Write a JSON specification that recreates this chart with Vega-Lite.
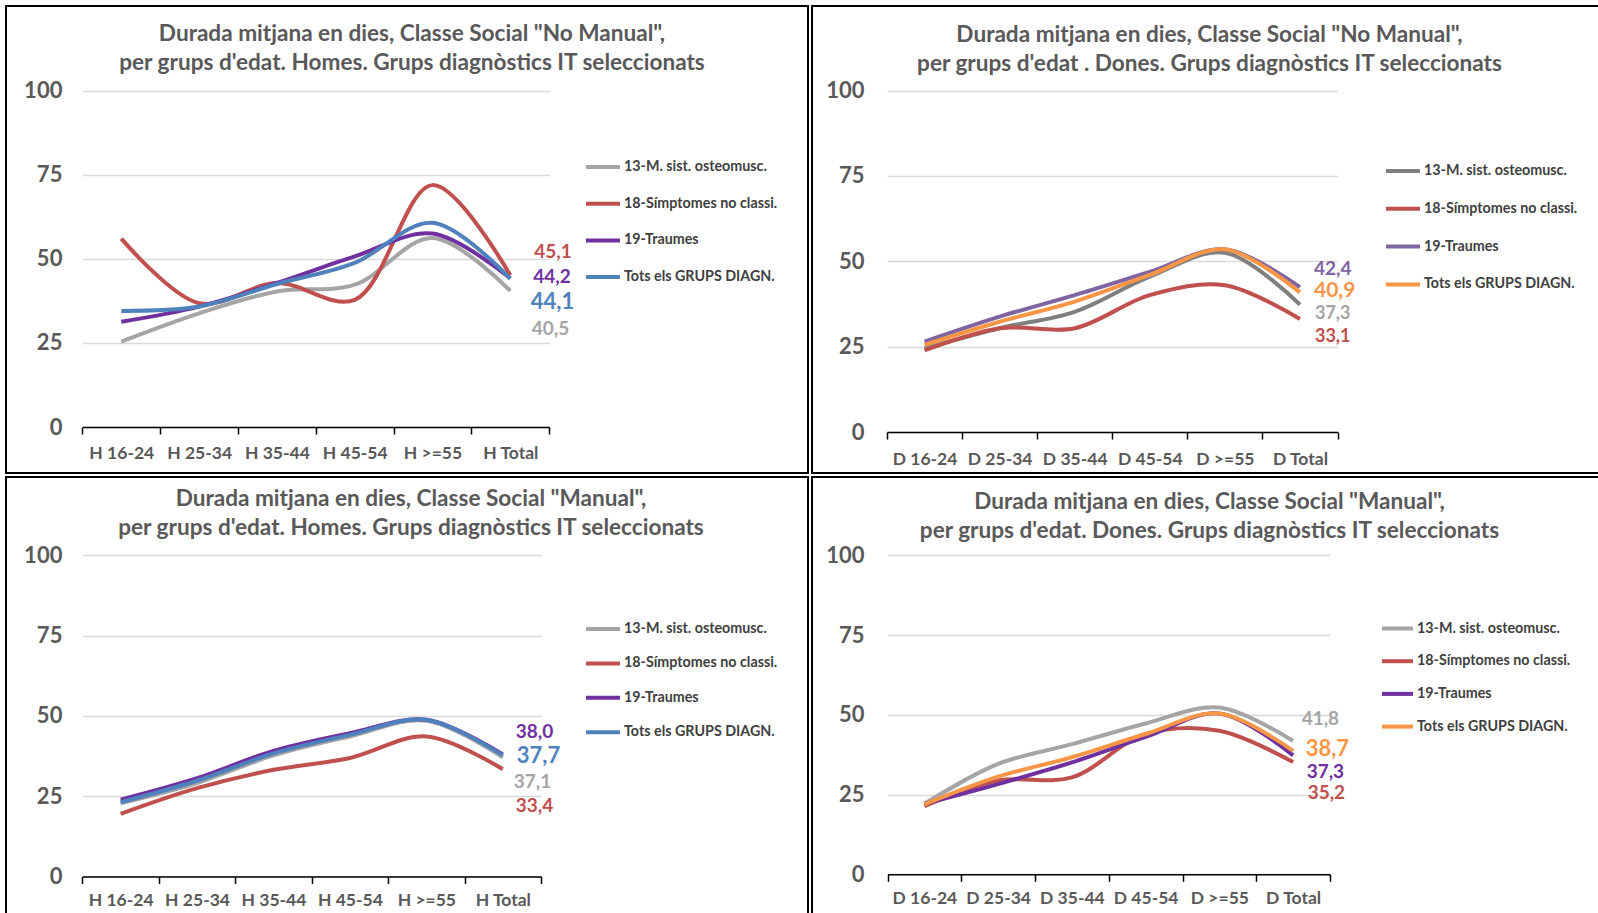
{
  "$schema": "https://vega.github.io/schema/vega-lite/v6.json",
  "background": "white",
  "padding": {"left": 5, "top": 5, "right": 0, "bottom": 0},
  "config": {
    "locale": {"number": {"decimal": ",", "thousands": ".", "grouping": [3], "currency": ["", " €"]}},
    "view": {"stroke": "#000000", "strokeWidth": 2, "fill": "white"},
    "font": "Lato",
    "axis": {"labelFont": "Lato", "labelFontWeight": "bold", "labelColor": "#595959", "title": null},
    "axisX": {"labelFontSize": 17.5, "labelAngle": 0, "tickBand": "extent", "tickSize": 7, "labelPadding": 8, "grid": false, "domainColor": "#000000", "tickColor": "#000000", "domainWidth": 1.5, "tickWidth": 1.5},
    "axisY": {"labelFontSize": 22, "domain": false, "ticks": false, "labelPadding": 20.5, "gridColor": "#D9D9D9", "gridWidth": 1.3},
    "legend": {"title": null, "orient": "none", "symbolType": "stroke", "symbolSize": 1156, "symbolStrokeWidth": 4, "labelFont": "Lato", "labelFontSize": 14.3, "labelFontWeight": "bold", "labelColor": "#404040", "labelOffset": 2},
    "title": {"font": "Lato", "fontSize": 22.6, "fontWeight": "bold", "color": "#595959", "anchor": "middle", "frame": "group", "lineHeight": 29.6},
    "concat": {"spacing": 2}
  },
  "datasets": {
    "tl": [
      {"cat": "H 16-24", "series": "13-M. sist. osteomusc.", "v": 25.4},
      {"cat": "H 25-34", "series": "13-M. sist. osteomusc.", "v": 33.8},
      {"cat": "H 35-44", "series": "13-M. sist. osteomusc.", "v": 40.3},
      {"cat": "H 45-54", "series": "13-M. sist. osteomusc.", "v": 42.3},
      {"cat": "H >=55", "series": "13-M. sist. osteomusc.", "v": 56.2},
      {"cat": "H Total", "series": "13-M. sist. osteomusc.", "v": 40.5},
      {"cat": "H 16-24", "series": "18-Símptomes no classi.", "v": 56.0},
      {"cat": "H 25-34", "series": "18-Símptomes no classi.", "v": 36.8},
      {"cat": "H 35-44", "series": "18-Símptomes no classi.", "v": 42.8},
      {"cat": "H 45-54", "series": "18-Símptomes no classi.", "v": 37.8},
      {"cat": "H >=55", "series": "18-Símptomes no classi.", "v": 71.9},
      {"cat": "H Total", "series": "18-Símptomes no classi.", "v": 45.1},
      {"cat": "H 16-24", "series": "19-Traumes", "v": 31.3},
      {"cat": "H 25-34", "series": "19-Traumes", "v": 35.8},
      {"cat": "H 35-44", "series": "19-Traumes", "v": 42.8},
      {"cat": "H 45-54", "series": "19-Traumes", "v": 50.7},
      {"cat": "H >=55", "series": "19-Traumes", "v": 57.5},
      {"cat": "H Total", "series": "19-Traumes", "v": 44.2},
      {"cat": "H 16-24", "series": "Tots els GRUPS DIAGN.", "v": 34.5},
      {"cat": "H 25-34", "series": "Tots els GRUPS DIAGN.", "v": 35.8},
      {"cat": "H 35-44", "series": "Tots els GRUPS DIAGN.", "v": 42.5},
      {"cat": "H 45-54", "series": "Tots els GRUPS DIAGN.", "v": 48.8},
      {"cat": "H >=55", "series": "Tots els GRUPS DIAGN.", "v": 60.7},
      {"cat": "H Total", "series": "Tots els GRUPS DIAGN.", "v": 44.1}
    ],
    "tr": [
      {"cat": "D 16-24", "series": "13-M. sist. osteomusc.", "v": 24.5},
      {"cat": "D 25-34", "series": "13-M. sist. osteomusc.", "v": 30.4},
      {"cat": "D 35-44", "series": "13-M. sist. osteomusc.", "v": 35.2},
      {"cat": "D 45-54", "series": "13-M. sist. osteomusc.", "v": 45.5},
      {"cat": "D >=55", "series": "13-M. sist. osteomusc.", "v": 52.5},
      {"cat": "D Total", "series": "13-M. sist. osteomusc.", "v": 37.3},
      {"cat": "D 16-24", "series": "18-Símptomes no classi.", "v": 23.9},
      {"cat": "D 25-34", "series": "18-Símptomes no classi.", "v": 30.4},
      {"cat": "D 35-44", "series": "18-Símptomes no classi.", "v": 30.4},
      {"cat": "D 45-54", "series": "18-Símptomes no classi.", "v": 40.1},
      {"cat": "D >=55", "series": "18-Símptomes no classi.", "v": 43.0},
      {"cat": "D Total", "series": "18-Símptomes no classi.", "v": 33.1},
      {"cat": "D 16-24", "series": "19-Traumes", "v": 26.5},
      {"cat": "D 25-34", "series": "19-Traumes", "v": 33.8},
      {"cat": "D 35-44", "series": "19-Traumes", "v": 40.1},
      {"cat": "D 45-54", "series": "19-Traumes", "v": 46.9},
      {"cat": "D >=55", "series": "19-Traumes", "v": 53.5},
      {"cat": "D Total", "series": "19-Traumes", "v": 42.4},
      {"cat": "D 16-24", "series": "Tots els GRUPS DIAGN.", "v": 25.5},
      {"cat": "D 25-34", "series": "Tots els GRUPS DIAGN.", "v": 32.3},
      {"cat": "D 35-44", "series": "Tots els GRUPS DIAGN.", "v": 38.2},
      {"cat": "D 45-54", "series": "Tots els GRUPS DIAGN.", "v": 46.0},
      {"cat": "D >=55", "series": "Tots els GRUPS DIAGN.", "v": 53.5},
      {"cat": "D Total", "series": "Tots els GRUPS DIAGN.", "v": 40.9}
    ],
    "bl": [
      {"cat": "H 16-24", "series": "13-M. sist. osteomusc.", "v": 22.8},
      {"cat": "H 25-34", "series": "13-M. sist. osteomusc.", "v": 29.1},
      {"cat": "H 35-44", "series": "13-M. sist. osteomusc.", "v": 37.7},
      {"cat": "H 45-54", "series": "13-M. sist. osteomusc.", "v": 43.6},
      {"cat": "H >=55", "series": "13-M. sist. osteomusc.", "v": 48.5},
      {"cat": "H Total", "series": "13-M. sist. osteomusc.", "v": 37.1},
      {"cat": "H 16-24", "series": "18-Símptomes no classi.", "v": 19.5},
      {"cat": "H 25-34", "series": "18-Símptomes no classi.", "v": 27.5},
      {"cat": "H 35-44", "series": "18-Símptomes no classi.", "v": 33.2},
      {"cat": "H 45-54", "series": "18-Símptomes no classi.", "v": 36.9},
      {"cat": "H >=55", "series": "18-Símptomes no classi.", "v": 43.6},
      {"cat": "H Total", "series": "18-Símptomes no classi.", "v": 33.4},
      {"cat": "H 16-24", "series": "19-Traumes", "v": 23.9},
      {"cat": "H 25-34", "series": "19-Traumes", "v": 30.6},
      {"cat": "H 35-44", "series": "19-Traumes", "v": 39.1},
      {"cat": "H 45-54", "series": "19-Traumes", "v": 44.6},
      {"cat": "H >=55", "series": "19-Traumes", "v": 48.8},
      {"cat": "H Total", "series": "19-Traumes", "v": 38.0},
      {"cat": "H 16-24", "series": "Tots els GRUPS DIAGN.", "v": 23.1},
      {"cat": "H 25-34", "series": "Tots els GRUPS DIAGN.", "v": 29.8},
      {"cat": "H 35-44", "series": "Tots els GRUPS DIAGN.", "v": 38.3},
      {"cat": "H 45-54", "series": "Tots els GRUPS DIAGN.", "v": 44.1},
      {"cat": "H >=55", "series": "Tots els GRUPS DIAGN.", "v": 48.8},
      {"cat": "H Total", "series": "Tots els GRUPS DIAGN.", "v": 37.7}
    ],
    "br": [
      {"cat": "D 16-24", "series": "13-M. sist. osteomusc.", "v": 22.1},
      {"cat": "D 25-34", "series": "13-M. sist. osteomusc.", "v": 34.6},
      {"cat": "D 35-44", "series": "13-M. sist. osteomusc.", "v": 40.8},
      {"cat": "D 45-54", "series": "13-M. sist. osteomusc.", "v": 47.3},
      {"cat": "D >=55", "series": "13-M. sist. osteomusc.", "v": 52.3},
      {"cat": "D Total", "series": "13-M. sist. osteomusc.", "v": 41.8},
      {"cat": "D 16-24", "series": "18-Símptomes no classi.", "v": 21.4},
      {"cat": "D 25-34", "series": "18-Símptomes no classi.", "v": 29.4},
      {"cat": "D 35-44", "series": "18-Símptomes no classi.", "v": 30.4},
      {"cat": "D 45-54", "series": "18-Símptomes no classi.", "v": 44.0},
      {"cat": "D >=55", "series": "18-Símptomes no classi.", "v": 45.0},
      {"cat": "D Total", "series": "18-Símptomes no classi.", "v": 35.2},
      {"cat": "D 16-24", "series": "19-Traumes", "v": 22.1},
      {"cat": "D 25-34", "series": "19-Traumes", "v": 28.3},
      {"cat": "D 35-44", "series": "19-Traumes", "v": 35.1},
      {"cat": "D 45-54", "series": "19-Traumes", "v": 43.1},
      {"cat": "D >=55", "series": "19-Traumes", "v": 50.4},
      {"cat": "D Total", "series": "19-Traumes", "v": 37.3},
      {"cat": "D 16-24", "series": "Tots els GRUPS DIAGN.", "v": 21.9},
      {"cat": "D 25-34", "series": "Tots els GRUPS DIAGN.", "v": 30.6},
      {"cat": "D 35-44", "series": "Tots els GRUPS DIAGN.", "v": 36.7},
      {"cat": "D 45-54", "series": "Tots els GRUPS DIAGN.", "v": 44.0},
      {"cat": "D >=55", "series": "Tots els GRUPS DIAGN.", "v": 50.4},
      {"cat": "D Total", "series": "Tots els GRUPS DIAGN.", "v": 38.7}
    ]
  },
  "resolve": {"scale": {"x": "independent", "y": "independent", "color": "independent"}, "legend": {"color": "independent"}},
  "vconcat": [
    {
      "hconcat": [
        {
          "width": 802, "height": 467,
          "data": {"name": "tl"},
          "title": {"text": ["Durada mitjana en dies, Classe Social \"No Manual\",", "per grups d'edat. Homes. Grups diagnòstics IT seleccionats"], "offset": -69, "dx": 5},
          "encoding": {
            "x": {"field": "cat", "type": "ordinal", "bandPosition": 0.5, "scale": {"type": "band", "domain": ["H 16-24", "H 25-34", "H 35-44", "H 45-54", "H >=55", "H Total"], "range": [76.4, 543.2], "paddingInner": 0, "paddingOuter": 0}, "axis": {"offset": -46, "labelPadding": 10}},
            "y": {"field": "v", "type": "quantitative", "scale": {"domain": [0, 100], "range": [421, 84.6], "nice": false}, "axis": {"offset": -76.4, "values": [0, 25, 50, 75, 100]}}
          },
          "layer": [
            {"mark": {"type": "line", "interpolate": "catmull-rom", "strokeWidth": 4}, "encoding": {"color": {"field": "series", "type": "nominal", "scale": {"domain": ["13-M. sist. osteomusc.", "18-Símptomes no classi.", "19-Traumes", "Tots els GRUPS DIAGN."], "range": ["#A5A5A5", "#C0504D", "#7030A0", "#4F81BD"]}, "legend": {"legendX": 578, "legendY": 142, "rowPadding": 9.7}}}},
            {"transform": [{"filter": "datum.cat == 'H Total' && datum.series == '18-Símptomes no classi.'"}], "mark": {"type": "text", "align": "left", "baseline": "middle", "dx": 24, "dy": -23, "fontSize": 19, "fontWeight": "bold", "color": "#C0504D"}, "encoding": {"text": {"field": "v", "type": "quantitative", "format": ".1f"}}},
            {"transform": [{"filter": "datum.cat == 'H Total' && datum.series == '19-Traumes'"}], "mark": {"type": "text", "align": "left", "baseline": "middle", "dx": 23, "dy": -1, "fontSize": 19, "fontWeight": "bold", "color": "#7030A0"}, "encoding": {"text": {"field": "v", "type": "quantitative", "format": ".1f"}}},
            {"transform": [{"filter": "datum.cat == 'H Total' && datum.series == 'Tots els GRUPS DIAGN.'"}], "mark": {"type": "text", "align": "left", "baseline": "middle", "dx": 20.5, "dy": 23, "fontSize": 22, "fontWeight": "bold", "color": "#4F81BD"}, "encoding": {"text": {"field": "v", "type": "quantitative", "format": ".1f"}}},
            {"transform": [{"filter": "datum.cat == 'H Total' && datum.series == '13-M. sist. osteomusc.'"}], "mark": {"type": "text", "align": "left", "baseline": "middle", "dx": 21.5, "dy": 38, "fontSize": 19, "fontWeight": "bold", "color": "#A5A5A5"}, "encoding": {"text": {"field": "v", "type": "quantitative", "format": ".1f"}}}
          ]
        },
        {
          "width": 795, "height": 467,
          "data": {"name": "tr"},
          "title": {"text": ["Durada mitjana en dies, Classe Social \"No Manual\",", "per grups d'edat . Dones. Grups diagnòstics IT seleccionats"], "offset": -70},
          "encoding": {
            "x": {"field": "cat", "type": "ordinal", "bandPosition": 0.5, "scale": {"type": "band", "domain": ["D 16-24", "D 25-34", "D 35-44", "D 45-54", "D >=55", "D Total"], "range": [75, 525.5], "paddingInner": 0, "paddingOuter": 0}, "axis": {"offset": -41, "labelPadding": 11}},
            "y": {"field": "v", "type": "quantitative", "scale": {"domain": [0, 100], "range": [426, 84.6], "nice": false}, "axis": {"offset": -75, "labelPadding": 23, "values": [0, 25, 50, 75, 100]}}
          },
          "layer": [
            {"mark": {"type": "line", "interpolate": "catmull-rom", "strokeWidth": 4}, "encoding": {"color": {"field": "series", "type": "nominal", "scale": {"domain": ["13-M. sist. osteomusc.", "18-Símptomes no classi.", "19-Traumes", "Tots els GRUPS DIAGN."], "range": ["#7F7F7F", "#C0504D", "#8064A2", "#F79646"]}, "legend": {"legendX": 572, "legendY": 146, "rowPadding": 10.8}}}},
            {"transform": [{"filter": "datum.cat == 'D Total' && datum.series == '19-Traumes'"}], "mark": {"type": "text", "align": "left", "baseline": "middle", "dx": 14, "dy": -18, "fontSize": 19, "fontWeight": "bold", "color": "#8064A2"}, "encoding": {"text": {"field": "v", "type": "quantitative", "format": ".1f"}}},
            {"transform": [{"filter": "datum.cat == 'D Total' && datum.series == 'Tots els GRUPS DIAGN.'"}], "mark": {"type": "text", "align": "left", "baseline": "middle", "dx": 14, "dy": -1, "fontSize": 21, "fontWeight": "bold", "color": "#F79646"}, "encoding": {"text": {"field": "v", "type": "quantitative", "format": ".1f"}}},
            {"transform": [{"filter": "datum.cat == 'D Total' && datum.series == '13-M. sist. osteomusc.'"}], "mark": {"type": "text", "align": "left", "baseline": "middle", "dx": 15, "dy": 9, "fontSize": 18, "fontWeight": "bold", "color": "#A5A5A5"}, "encoding": {"text": {"field": "v", "type": "quantitative", "format": ".1f"}}},
            {"transform": [{"filter": "datum.cat == 'D Total' && datum.series == '18-Símptomes no classi.'"}], "mark": {"type": "text", "align": "left", "baseline": "middle", "dx": 15, "dy": 18.5, "fontSize": 18, "fontWeight": "bold", "color": "#C0504D"}, "encoding": {"text": {"field": "v", "type": "quantitative", "format": ".1f"}}}
          ]
        }
      ],
      "resolve": {"scale": {"x": "independent", "y": "independent", "color": "independent"}, "legend": {"color": "independent"}}
    },
    {
      "hconcat": [
        {
          "width": 802, "height": 445,
          "data": {"name": "bl"},
          "title": {"text": ["Durada mitjana en dies, Classe Social \"Manual\",", "per grups d'edat. Homes. Grups diagnòstics IT seleccionats"], "offset": -63, "dx": 4},
          "encoding": {
            "x": {"field": "cat", "type": "ordinal", "bandPosition": 0.5, "scale": {"type": "band", "domain": ["H 16-24", "H 25-34", "H 35-44", "H 45-54", "H >=55", "H Total"], "range": [76.4, 535], "paddingInner": 0, "paddingOuter": 0}, "axis": {"offset": -45.6}},
            "y": {"field": "v", "type": "quantitative", "scale": {"domain": [0, 100], "range": [399.4, 78.4], "nice": false}, "axis": {"offset": -76.4, "values": [0, 25, 50, 75, 100]}}
          },
          "layer": [
            {"mark": {"type": "line", "interpolate": "catmull-rom", "strokeWidth": 4}, "encoding": {"color": {"field": "series", "type": "nominal", "scale": {"domain": ["13-M. sist. osteomusc.", "18-Símptomes no classi.", "19-Traumes", "Tots els GRUPS DIAGN."], "range": ["#A5A5A5", "#C0504D", "#7030A0", "#4F81BD"]}, "legend": {"legendX": 578, "legendY": 133, "rowPadding": 7.4}}}},
            {"transform": [{"filter": "datum.cat == 'H Total' && datum.series == '19-Traumes'"}], "mark": {"type": "text", "align": "left", "baseline": "middle", "dx": 13, "dy": -22, "fontSize": 19, "fontWeight": "bold", "color": "#7030A0"}, "encoding": {"text": {"field": "v", "type": "quantitative", "format": ".1f"}}},
            {"transform": [{"filter": "datum.cat == 'H Total' && datum.series == 'Tots els GRUPS DIAGN.'"}], "mark": {"type": "text", "align": "left", "baseline": "middle", "dx": 14, "dy": 1, "fontSize": 22, "fontWeight": "bold", "color": "#4F81BD"}, "encoding": {"text": {"field": "v", "type": "quantitative", "format": ".1f"}}},
            {"transform": [{"filter": "datum.cat == 'H Total' && datum.series == '13-M. sist. osteomusc.'"}], "mark": {"type": "text", "align": "left", "baseline": "middle", "dx": 11, "dy": 24.5, "fontSize": 19, "fontWeight": "bold", "color": "#A5A5A5"}, "encoding": {"text": {"field": "v", "type": "quantitative", "format": ".1f"}}},
            {"transform": [{"filter": "datum.cat == 'H Total' && datum.series == '18-Símptomes no classi.'"}], "mark": {"type": "text", "align": "left", "baseline": "middle", "dx": 13, "dy": 36.7, "fontSize": 19, "fontWeight": "bold", "color": "#C0504D"}, "encoding": {"text": {"field": "v", "type": "quantitative", "format": ".1f"}}}
          ]
        },
        {
          "width": 795, "height": 445,
          "data": {"name": "br"},
          "title": {"text": ["Durada mitjana en dies, Classe Social \"Manual\",", "per grups d'edat. Dones. Grups diagnòstics IT seleccionats"], "offset": -66},
          "encoding": {
            "x": {"field": "cat", "type": "ordinal", "bandPosition": 0.5, "scale": {"type": "band", "domain": ["D 16-24", "D 25-34", "D 35-44", "D 45-54", "D >=55", "D Total"], "range": [75.5, 518], "paddingInner": 0, "paddingOuter": 0}, "axis": {"offset": -47.7}},
            "y": {"field": "v", "type": "quantitative", "scale": {"domain": [0, 100], "range": [397.3, 78.4], "nice": false}, "axis": {"offset": -75.5, "labelPadding": 23.5, "values": [0, 25, 50, 75, 100]}}
          },
          "layer": [
            {"mark": {"type": "line", "interpolate": "catmull-rom", "strokeWidth": 4}, "encoding": {"color": {"field": "series", "type": "nominal", "scale": {"domain": ["13-M. sist. osteomusc.", "18-Símptomes no classi.", "19-Traumes", "Tots els GRUPS DIAGN."], "range": ["#A5A5A5", "#C0504D", "#7030A0", "#F79646"]}, "legend": {"legendX": 568, "legendY": 134, "rowPadding": 6.7, "symbolSize": 961}}}},
            {"transform": [{"filter": "datum.cat == 'D Total' && datum.series == '13-M. sist. osteomusc.'"}], "mark": {"type": "text", "align": "left", "baseline": "middle", "dx": 8.5, "dy": -22, "fontSize": 19, "fontWeight": "bold", "color": "#A5A5A5"}, "encoding": {"text": {"field": "v", "type": "quantitative", "format": ".1f"}}},
            {"transform": [{"filter": "datum.cat == 'D Total' && datum.series == 'Tots els GRUPS DIAGN.'"}], "mark": {"type": "text", "align": "left", "baseline": "middle", "dx": 12.5, "dy": -2, "fontSize": 22, "fontWeight": "bold", "color": "#F79646"}, "encoding": {"text": {"field": "v", "type": "quantitative", "format": ".1f"}}},
            {"transform": [{"filter": "datum.cat == 'D Total' && datum.series == '19-Traumes'"}], "mark": {"type": "text", "align": "left", "baseline": "middle", "dx": 13.5, "dy": 16.3, "fontSize": 19, "fontWeight": "bold", "color": "#7030A0"}, "encoding": {"text": {"field": "v", "type": "quantitative", "format": ".1f"}}},
            {"transform": [{"filter": "datum.cat == 'D Total' && datum.series == '18-Símptomes no classi.'"}], "mark": {"type": "text", "align": "left", "baseline": "middle", "dx": 14.5, "dy": 30.6, "fontSize": 19, "fontWeight": "bold", "color": "#C0504D"}, "encoding": {"text": {"field": "v", "type": "quantitative", "format": ".1f"}}}
          ]
        }
      ],
      "resolve": {"scale": {"x": "independent", "y": "independent", "color": "independent"}, "legend": {"color": "independent"}}
    }
  ]
}
